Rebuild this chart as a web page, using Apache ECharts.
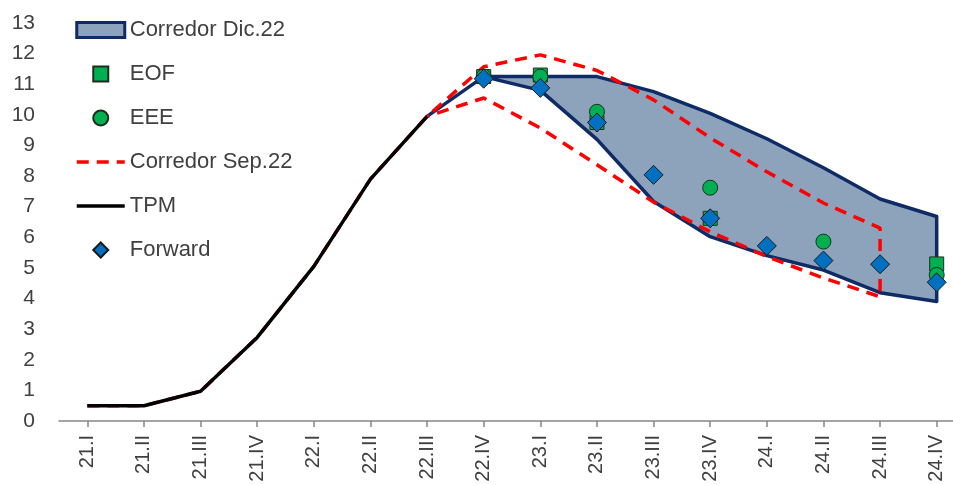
<!DOCTYPE html>
<html>
<head>
<meta charset="utf-8">
<script src="https://cdn.jsdelivr.net/npm/echarts@6/dist/echarts.min.js"></script>
<style>
html,body{margin:0;padding:0;background:#fff;}
#chart{width:953px;height:485px;}
</style>
</head>
<body>
<div id="chart"></div>
<script>
// Categories (quarters)
const categories = ['21.I','21.II','21.III','21.IV','22.I','22.II','22.III','22.IV','23.I','23.II','23.III','23.IV','24.I','24.II','24.III','24.IV'];
const yTicks = [0,1,2,3,4,5,6,7,8,9,10,11,12,13];

// TPM history (21.I .. 22.III)
const tpm = [0.5, 0.5, 0.97, 2.73, 5.05, 7.9, 9.95];

// Corredor Sep.22 (22.IV .. 24.III)
const sepUpper = [11.57, 11.96, 11.45, 10.49, 9.25, 8.14, 7.12, 6.3];
const sepLower = [10.55, 9.57, 8.37, 7.15, 6.18, 5.37, 4.67, 4.06];

// Corredor Dic.22 (22.III .. 24.IV)
const dicUpper = [9.95, 11.25, 11.25, 11.25, 10.76, 10.05, 9.22, 8.27, 7.25, 6.68];
const dicLower = [9.95, 11.25, 10.8, 9.2, 7.17, 6.02, 5.4, 4.93, 4.19, 3.9];

// Point forecasts (22.IV .. 24.IV)
const eof     = [11.25, 11.3, 9.75, null, 6.62, null, null, null, 5.13];
const eee     = [11.25, 11.25, 10.1, null, 7.62, null, 5.86, null, 4.77];
const forward = [11.18, 10.88, 9.75, 8.04, 6.62, 5.72, 5.24, 5.12, 4.53];

const tpmStart = 0, sepStart = 7, dicStart = 6, ptStart = 7;

// Build Sep.22 corridor path: history -> upper -> vertical -> lower back
const sepPath = [];
tpm.forEach((v, i) => sepPath.push([tpmStart + i, v]));
sepUpper.forEach((v, i) => sepPath.push([sepStart + i, v]));
for (let i = sepLower.length - 1; i >= 0; i--) sepPath.push([sepStart + i, sepLower[i]]);
sepPath.push([sepStart - 1, tpm[tpm.length - 1]]);

const toPairs = (arr, start) => arr.map((v, i) => v == null ? null : [start + i, v]).filter(d => d);

const FONT = 'Liberation Sans';
const TXT = '#404040';

const chart = echarts.init(document.getElementById('chart'));
chart.setOption({
  animation: false,
  backgroundColor: '#ffffff',
  textStyle: { fontFamily: FONT },
  grid: { left: 59, top: 23, width: 906, height: 398, containLabel: false, outerBoundsMode: 'none' },
  legend: {
    orient: 'vertical',
    left: 75,
    top: 18,
    padding: 0,
    itemWidth: 48,
    itemHeight: 15,
    itemGap: 20,
    textStyle: { fontFamily: FONT, fontSize: 22, color: TXT, lineHeight: 24 },
    data: [
      { name: 'Corredor Dic.22', icon: 'rect', itemStyle: { color: '#8DA3BC', borderColor: '#0E2B66', borderWidth: 3 } },
      { name: 'EOF', icon: 'path://M0,0H10V10H0Z' },
      { name: 'EEE', icon: 'circle' },
      { name: 'Corredor Sep.22', itemStyle: { opacity: 0 }, lineStyle: { width: 3.5, type: [12, 8], color: '#FF0000' } },
      { name: 'TPM', itemStyle: { opacity: 0 }, lineStyle: { width: 3.5, color: '#000000' } },
      { name: 'Forward', icon: 'path://M5,0L10,5L5,10L0,5Z' }
    ]
  },
  xAxis: {
    type: 'category',
    data: categories,
    boundaryGap: true,
    axisLine: { show: true, lineStyle: { color: '#868686', width: 1.5 } },
    axisTick: { show: true, alignWithLabel: true, length: 6, lineStyle: { color: '#868686', width: 1.5 } },
    axisLabel: { rotate: 90, margin: 14, fontSize: 20, color: TXT, fontFamily: FONT, interval: 0 },
    splitLine: { show: false }
  },
  yAxis: {
    type: 'value',
    min: yTicks[0],
    max: yTicks[yTicks.length - 1],
    interval: 1,
    axisLine: { show: false },
    axisTick: { show: false },
    splitLine: { show: false },
    axisLabel: { fontSize: 21, color: TXT, margin: 24, fontFamily: FONT }
  },
  series: [
    {
      name: 'Corredor Dic.22',
      type: 'custom',
      z: 1,
      data: [[dicStart, dicUpper[0]]],
      itemStyle: { color: '#8DA3BC', borderColor: '#0E2B66', borderWidth: 3 },
      renderItem: function (params, api) {
        const pts = [];
        dicUpper.forEach((v, i) => pts.push(api.coord([dicStart + i, v])));
        for (let i = dicLower.length - 1; i >= 0; i--) pts.push(api.coord([dicStart + i, dicLower[i]]));
        return {
          type: 'polygon',
          shape: { points: pts },
          style: { fill: '#8DA3BC', stroke: '#0E2B66', lineWidth: 3.5, lineJoin: 'round' }
        };
      }
    },
    {
      name: 'Corredor Sep.22',
      type: 'line',
      z: 2,
      data: sepPath,
      showSymbol: false,
      symbol: 'none',
      lineStyle: { color: '#FF0000', width: 3.5, type: [12, 8] },
      itemStyle: { color: '#FF0000' }
    },
    {
      name: 'TPM',
      type: 'line',
      z: 3,
      data: toPairs(tpm, tpmStart),
      showSymbol: false,
      symbol: 'none',
      lineStyle: { color: '#000000', width: 3.5 },
      itemStyle: { color: '#000000' }
    },
    {
      name: 'EOF',
      type: 'scatter',
      z: 4,
      symbol: 'rect',
      symbolSize: 14,
      data: toPairs(eof, ptStart),
      itemStyle: { color: '#00B050', borderColor: '#1f2d1f', borderWidth: 1, opacity: 1 }
    },
    {
      name: 'EEE',
      type: 'scatter',
      z: 5,
      symbol: 'circle',
      symbolSize: 15,
      data: toPairs(eee, ptStart),
      itemStyle: { color: '#00B050', borderColor: '#1f2d1f', borderWidth: 1, opacity: 1 }
    },
    {
      name: 'Forward',
      type: 'scatter',
      z: 6,
      symbol: 'diamond',
      symbolSize: 19,
      data: toPairs(forward, ptStart),
      itemStyle: { color: '#0070C0', borderColor: '#1a1a1a', borderWidth: 1, opacity: 1 }
    }
  ]
});
</script>
</body>
</html>
